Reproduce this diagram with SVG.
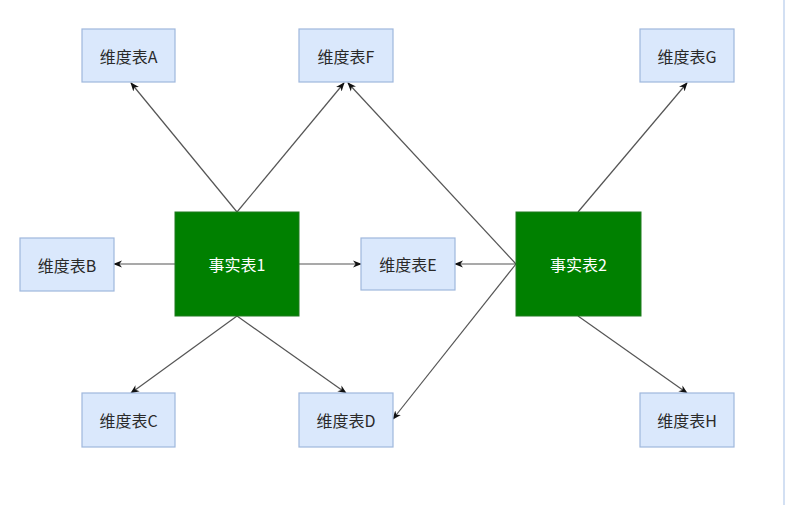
<svg xmlns="http://www.w3.org/2000/svg" width="785" height="522" viewBox="0 0 785 522">
<defs>
<marker id="arr" viewBox="0 0 10 10" refX="9" refY="5" markerWidth="9" markerHeight="9" markerUnits="userSpaceOnUse" orient="auto">
<path d="M0,1 L10,5 L0,9 L3,5 Z" fill="#111"/>
</marker>
<style>
.dim rect{fill:#dae8fc;stroke:#9fb7dc;stroke-width:1.2}
.dim text{font-family:"Noto Sans CJK SC","Liberation Sans",sans-serif;font-size:16px;fill:#2a2a2a;text-anchor:middle;dominant-baseline:central}
.fact rect{fill:#008000;stroke:#1f7a1f;stroke-width:1}
.fact text{font-family:"Noto Sans CJK SC","Liberation Sans",sans-serif;font-size:16px;fill:#fff;text-anchor:middle;dominant-baseline:central}
#edges line{stroke:#555;stroke-width:1.2;marker-end:url(#arr)}
</style>
</defs>
<rect width="785" height="522" fill="#fff"/>
<rect x="783" y="0" width="2" height="505" fill="#d3e0f3"/>
<g id="edges">
<line x1="237" y1="212" x2="131" y2="83"/>
<line x1="237" y1="212" x2="344" y2="83"/>
<line x1="175" y1="264" x2="114" y2="264"/>
<line x1="299" y1="264" x2="361" y2="264"/>
<line x1="237" y1="316" x2="131" y2="393"/>
<line x1="237" y1="316" x2="346" y2="393"/>
<line x1="516" y1="264" x2="348" y2="83"/>
<line x1="516" y1="264" x2="455" y2="264"/>
<line x1="516" y1="264" x2="393" y2="419"/>
<line x1="578" y1="212" x2="687" y2="83"/>
<line x1="578" y1="316" x2="687" y2="393"/>
</g>
<g id="dimA" class="dim"><rect x="82" y="29" width="93" height="53"/><text x="128.5" y="55.5">维度表A</text></g>
<g id="dimF" class="dim"><rect x="299" y="29" width="94" height="53"/><text x="346" y="55.5">维度表F</text></g>
<g id="dimG" class="dim"><rect x="640" y="29" width="94" height="53"/><text x="687" y="55.5">维度表G</text></g>
<g id="dimB" class="dim"><rect x="20" y="238" width="94" height="53"/><text x="67" y="264.5">维度表B</text></g>
<g id="dimE" class="dim"><rect x="361" y="238" width="94" height="52"/><text x="408" y="264">维度表E</text></g>
<g id="dimC" class="dim"><rect x="82" y="393" width="93" height="54"/><text x="128.5" y="420">维度表C</text></g>
<g id="dimD" class="dim"><rect x="299" y="393" width="94" height="54"/><text x="346" y="420">维度表D</text></g>
<g id="dimH" class="dim"><rect x="640" y="393" width="94" height="54"/><text x="687" y="420">维度表H</text></g>
<g id="fact1" class="fact"><rect x="175" y="212" width="124" height="104"/><text x="237" y="264">事实表1</text></g>
<g id="fact2" class="fact"><rect x="516" y="212" width="125" height="104"/><text x="578.5" y="264">事实表2</text></g>
</svg>
